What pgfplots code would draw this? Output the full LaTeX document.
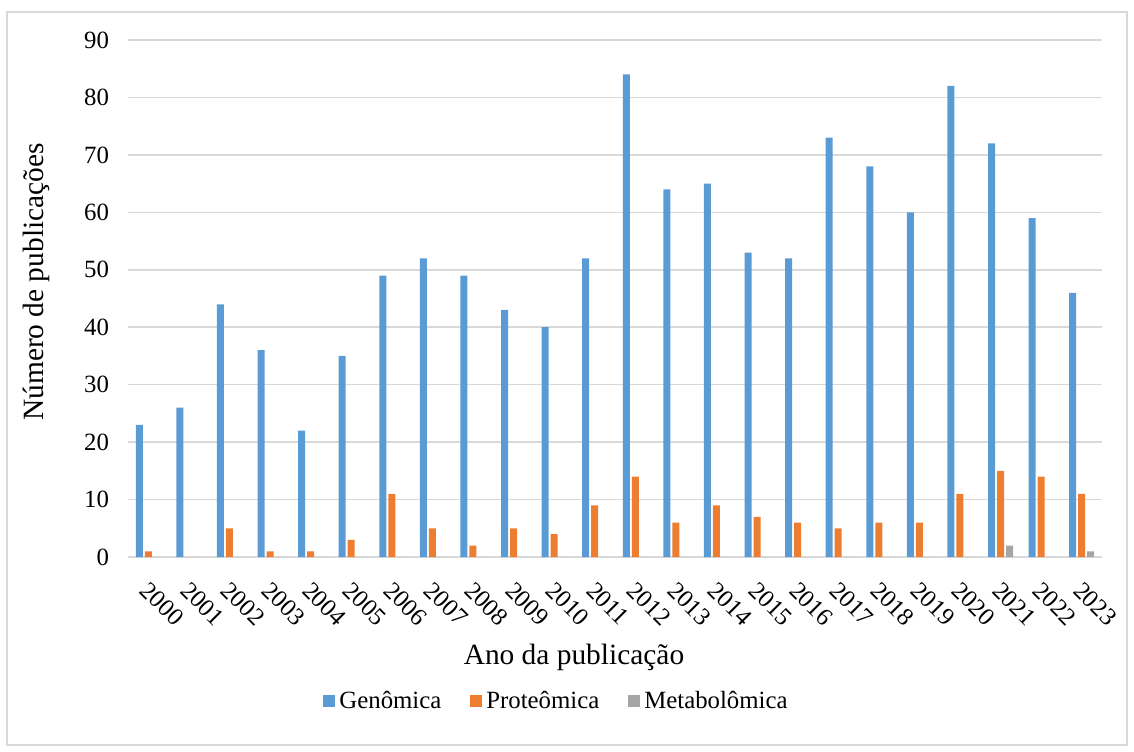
\documentclass[border=0pt]{standalone}
\usepackage{fontspec}
\setmainfont{Liberation Serif}
\usepackage{pgfplots}
\pgfplotsset{compat=1.18}

\definecolor{genblue}{HTML}{5B9BD5}
\definecolor{proorange}{HTML}{ED7D31}
\definecolor{metgray}{HTML}{A5A5A5}
\definecolor{gridgray}{HTML}{D9D9D9}

\begin{document}
\begin{tikzpicture}
\useasboundingbox (-64pt,-97pt) rectangle (503pt,278.5pt);
\draw[gridgray, line width=0.75pt] (-60.5pt,-94pt) rectangle (499.5pt,272.5pt);
\begin{axis}[
  at={(0,0)}, anchor=south west,
  scale only axis,
  width=487pt, height=258.5pt,
  ybar=1pt, bar width=3.5pt,
  xmin=-0.5, xmax=23.5,
  ymin=0, ymax=90,
  ytick={0,10,...,90},
  xtick={0,...,23},
  xticklabels={2000,2001,2002,2003,2004,2005,2006,2007,2008,2009,2010,2011,2012,2013,2014,2015,2016,2017,2018,2019,2020,2021,2022,2023},
  /pgf/number format/assume math mode=true,
  axis y line*=left,
  y axis line style={draw=none},
  axis x line*=bottom,
  x axis line style={gridgray, line width=1pt, -},
  major tick length=0pt,
  ymajorgrids,
  grid style={gridgray, line width=0.75pt},
  tick label style={font=\fontsize{12.4}{14}\selectfont},
  yticklabel style={anchor=east, xshift=-6pt},
  xticklabel style={rotate=-45, anchor=north west, xshift=5.5pt, yshift=-4pt},
  xlabel={Ano da publicação},
  ylabel={Número de publicações},
  label style={font=\fontsize{14.7}{17}\selectfont},
  xlabel style={at={(223pt,-50pt)}, anchor=center},
  ylabel style={at={(-46pt,137.5pt)}, anchor=center},
  legend style={at={(214.75pt,-72pt)}, anchor=center, draw=none,
    legend columns=3, font=\fontsize{12.4}{14}\selectfont,
    /tikz/every even column/.append style={column sep=12.5pt}},
  legend image code/.code={\fill[#1, draw=none] (-2pt,-3pt) rectangle (4pt,3pt);},
]
\addplot[fill=genblue, draw=none] coordinates {
 (0,23) (1,26) (2,44) (3,36) (4,22) (5,35) (6,49) (7,52) (8,49) (9,43) (10,40) (11,52)
 (12,84) (13,64) (14,65) (15,53) (16,52) (17,73) (18,68) (19,60) (20,82) (21,72) (22,59) (23,46)};
\addplot[fill=proorange, draw=none] coordinates {
 (0,1) (1,0) (2,5) (3,1) (4,1) (5,3) (6,11) (7,5) (8,2) (9,5) (10,4) (11,9)
 (12,14) (13,6) (14,9) (15,7) (16,6) (17,5) (18,6) (19,6) (20,11) (21,15) (22,14) (23,11)};
\addplot[fill=metgray, draw=none] coordinates {
 (0,0) (1,0) (2,0) (3,0) (4,0) (5,0) (6,0) (7,0) (8,0) (9,0) (10,0) (11,0)
 (12,0) (13,0) (14,0) (15,0) (16,0) (17,0) (18,0) (19,0) (20,0) (21,2) (22,0) (23,1)};
\legend{Genômica, Proteômica, Metabolômica}
\end{axis}
\end{tikzpicture}
\end{document}
